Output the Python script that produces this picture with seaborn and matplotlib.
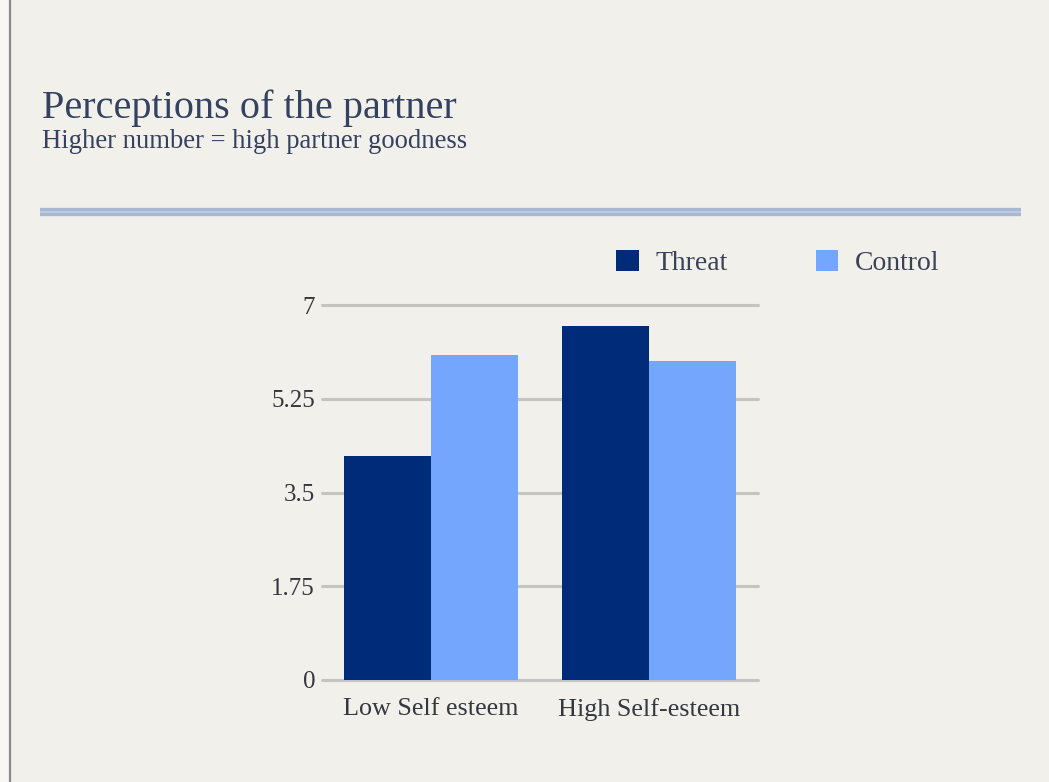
import matplotlib
matplotlib.use("Agg")
import matplotlib.pyplot as plt
from matplotlib.lines import Line2D
import seaborn as sns
import pandas as pd

# Data
groups = ["Low Self esteem", "High Self-esteem"]
conditions = ["Threat", "Control"]
threat_vals = [4.19, 6.60]
control_vals = [6.07, 5.96]
y_ticks = [0, 1.75, 3.5, 5.25, 7]
y_tick_labels = ["0", "1.75", "3.5", "5.25", "7"]

title = "Perceptions of the partner"
subtitle = "Higher number = high partner goodness"

colors = {"Threat": "#002b78", "Control": "#74a6fe"}
paper = "#f2f0eb"

df = pd.DataFrame({
    "group": groups * 2,
    "condition": ["Threat"] * len(groups) + ["Control"] * len(groups),
    "value": threat_vals + control_vals,
})

sns.set_theme(style="white")
plt.rcParams["font.family"] = ["Liberation Serif", "DejaVu Serif"]

W, H = 1049, 782
fig = plt.figure(figsize=(W / 100, H / 100), dpi=100, facecolor=paper)

ax = fig.add_axes([322 / W, 1 - 680 / H, (758 - 322) / W, (680 - 305) / H])
ax.set_facecolor("none")

sns.barplot(data=df, x="group", y="value", hue="condition",
            order=groups, hue_order=conditions, palette=colors,
            width=0.8, saturation=1, linewidth=0, ax=ax)

ax.set_xlim(-0.5, 1.5)
ax.set_ylim(0, 7)
ax.set_yticks(y_ticks)
ax.set_yticklabels(y_tick_labels)
ax.set_xlabel("")
ax.set_ylabel("")
for s in ax.spines.values():
    s.set_visible(False)
ax.yaxis.grid(True, color="#c4c4c2", linewidth=2.2)
for gl in ax.get_ygridlines():
    gl.set_clip_on(False)
ax.set_axisbelow(True)
ax.tick_params(axis="both", length=0, colors="#33373f")
ax.tick_params(axis="y", pad=5, labelsize=18)
ax.tick_params(axis="x", pad=13, labelsize=18.8)

# Legend
handles, labels = ax.get_legend_handles_labels()
ax.legend(handles, labels, ncol=2, frameon=False,
          loc="center", bbox_to_anchor=(778 / W, 1 - 263 / H),
          bbox_transform=fig.transFigure,
          handlelength=0.8, handleheight=0.8, handletextpad=0.62,
          columnspacing=3.15, fontsize=20, labelcolor="#3a4256")

# Title block
fig.text(42 / W, 1 - 108 / H, title, fontsize=29, color="#34425f",
         va="center", ha="left")
fig.text(42 / W, 1 - 142 / H, subtitle, fontsize=19.2, color="#34425f",
         va="center", ha="left")

# Double rule under the header
y_rule = 1 - 211.5 / H
fig.add_artist(Line2D([40 / W, 1021 / W], [y_rule, y_rule],
                      transform=fig.transFigure, color="#a6b8d2",
                      linewidth=6.0, solid_capstyle="butt"))
fig.add_artist(Line2D([40 / W, 1021 / W], [y_rule, y_rule],
                      transform=fig.transFigure, color="#c3d0e2",
                      linewidth=1.2, solid_capstyle="butt"))

# Page edge on the left
fig.add_artist(plt.Rectangle((0, 0), 9 / W, 1, transform=fig.transFigure,
                             color="#f7f7f5", zorder=0))
fig.add_artist(Line2D([10 / W, 10 / W], [0, 1], transform=fig.transFigure,
                      color="#8a8a88", linewidth=1.6))

fig.savefig("out.png", dpi=100, facecolor=paper)
